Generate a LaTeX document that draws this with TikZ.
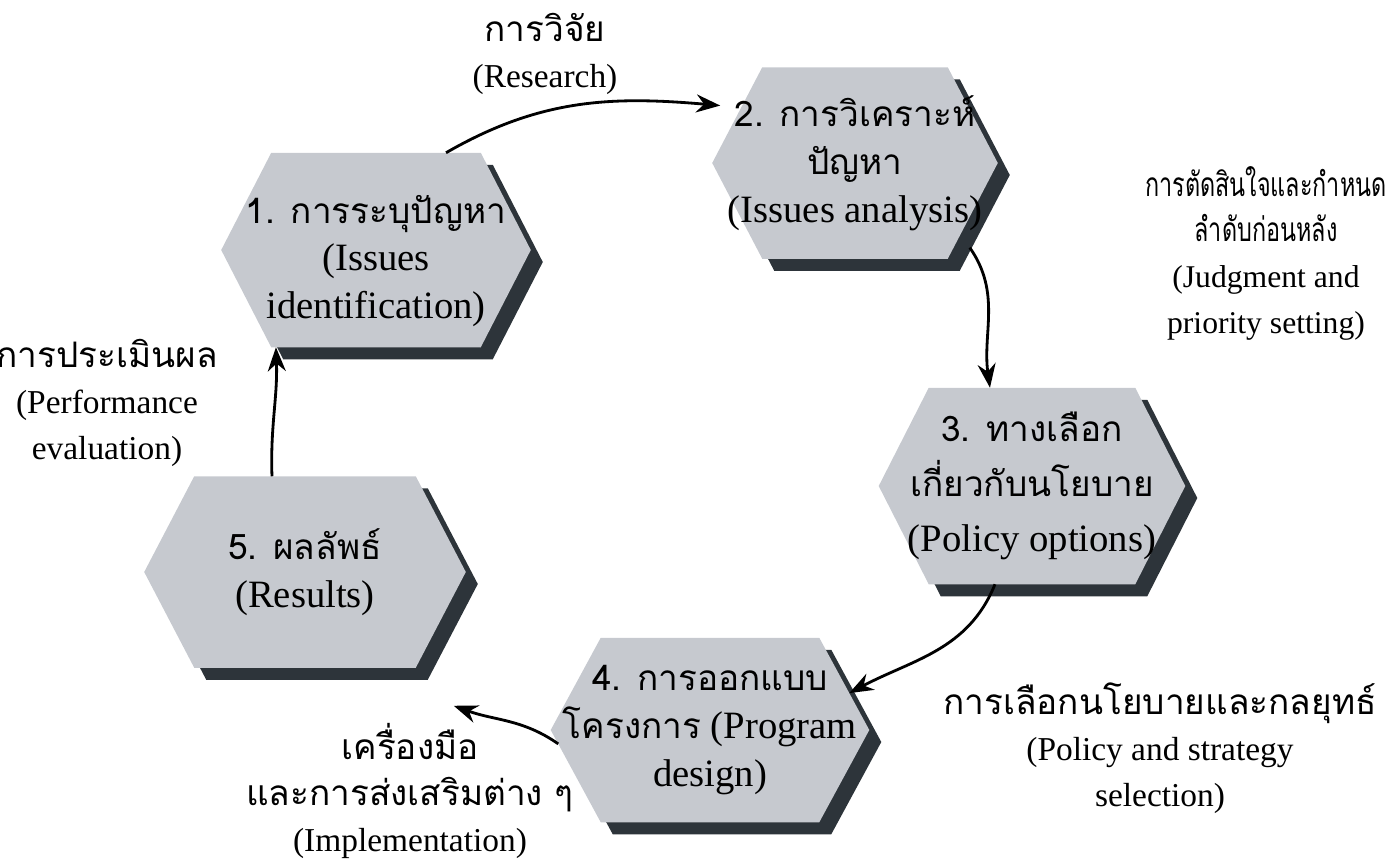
\documentclass[tikz,border=0pt]{standalone}
\usepackage{fontspec}
\setmainfont{Liberation Serif}
\newfontfamily\thfont[Script=Thai]{Loma}
\newfontfamily\thfontn[Script=Thai,FakeStretch=0.7]{Loma}
\usetikzlibrary{shadows,arrows.meta,calc,backgrounds}
\definecolor{hexfill}{RGB}{198,201,207}
\definecolor{hexshadow}{RGB}{45,52,58}
\newcommand{\T}[1]{{\thfont\fontsize{10}{13}\selectfont #1}}
\newcommand{\TN}[1]{{\thfontn\fontsize{9.5}{13}\selectfont #1}}
\def\hc{0.5cm}
\newcommand{\hexbg}[1]{%
  \begin{pgfonlayer}{background}
  \path[fill=hexfill, drop shadow={shadow xshift=0.12cm, shadow yshift=-0.12cm, fill=hexshadow, opacity=1}]
    (#1.west) -- ([xshift=\hc]#1.north west) -- ([xshift=-\hc]#1.north east) -- (#1.east)
    -- ([xshift=-\hc]#1.south east) -- ([xshift=\hc]#1.south west) -- cycle;
  \end{pgfonlayer}}
\tikzset{
  hexnode/.style={rectangle, draw=none, align=center, inner sep=0pt,
    font=\fontsize{11}{13.6}\selectfont},
  hextext/.style={align=center, inner sep=0pt, font=\fontsize{11}{13.6}\selectfont},
  lbl/.style={align=center, inner sep=0pt, font=\fontsize{9.5}{13}\selectfont},
  flow/.style={draw=black, line width=0.8pt, -{Stealth[length=2.4mm,width=1.8mm]}}
}
\begin{document}
\begin{tikzpicture}[x=0.01cm,y=0.01cm]
\useasboundingbox (0,0) rectangle (1387,-859);
\node[hexnode, minimum width=3.08cm, minimum height=1.93cm] (n1) at (376,-250) {};
\node[hextext] (t1) at ([yshift=-0.11cm]n1.center)
  {\T{1. การระบุปัญหา}\\(Issues\\identification)};
\node[hexnode, minimum width=2.84cm, minimum height=1.9cm] (n2) at (855,-163)
  {\T{2. การวิเคราะห์}\\\T{ปัญหา}\\(Issues analysis)};
\node[hexnode, minimum width=3.05cm, minimum height=1.95cm] (n3) at (1032,-486)
  {\T{3. ทางเลือก}\\[2pt]\T{เกี่ยวกับนโยบาย}\\[2pt](Policy options)};
\node[hexnode, minimum width=3.17cm, minimum height=1.83cm] (n4) at (710,-730)
  {\T{4. การออกแบบ}\\\T{โครงการ} (Program\\design)};
\node[hexnode, minimum width=3.2cm, minimum height=1.9cm] (n5) at (305,-572)
  {\T{5. ผลลัพธ์}\\(Results)};
\hexbg{n1}\hexbg{n2}\hexbg{n3}\hexbg{n4}\hexbg{n5}

\node[lbl] (l12) at (545,-54) {\T{การวิจัย}\\(Research)};
\node[lbl, font=\fontsize{9}{13}\selectfont] (l23) at (1266,-253)
  {\TN{การตัดสินใจและกำหนด}\\\TN{ลำดับก่อนหลัง}\\(Judgment and\\priority setting)};
\node[lbl] (l34) at (1160,-748) {\T{การเลือกนโยบายและกลยุทธ์}\\(Policy and strategy\\selection)};
\node[lbl] (l45) at (410,-791) {\T{เครื่องมือ}\\\T{และการส่งเสริมต่าง ๆ}\\(Implementation)};
\node[lbl] (l51) at (107,-403) {\T{การประเมินผล}\\(Performance\\evaluation)};

\draw[flow] ([xshift=0.7cm]n1.north) to[out=30,in=175]
  ($(n2.west)!0.6!([xshift=\hc]n2.north west)+(-22,0)$);
\draw[flow] ($(n2.east)!0.8!([xshift=-\hc]n2.south east)+(12,-8)$) to[out=-55,in=98]
  ([xshift=-0.42cm]n3.north);
\draw[flow] ([xshift=-0.37cm]n3.south) to[out=-112,in=28]
  ($(n4.east)!0.4!([xshift=-\hc]n4.north east)$);
\draw[flow] ($(n4.west)!0.15!([xshift=\hc]n4.south west)$) to[out=145,in=-20]
  ($([xshift=-\hc]n5.south east)+(38,-38)$);
\draw[flow] ([xshift=-0.33cm]n5.north) to[out=92,in=-88]
  ([xshift=-1.0cm]n1.south);
\end{tikzpicture}
\end{document}
